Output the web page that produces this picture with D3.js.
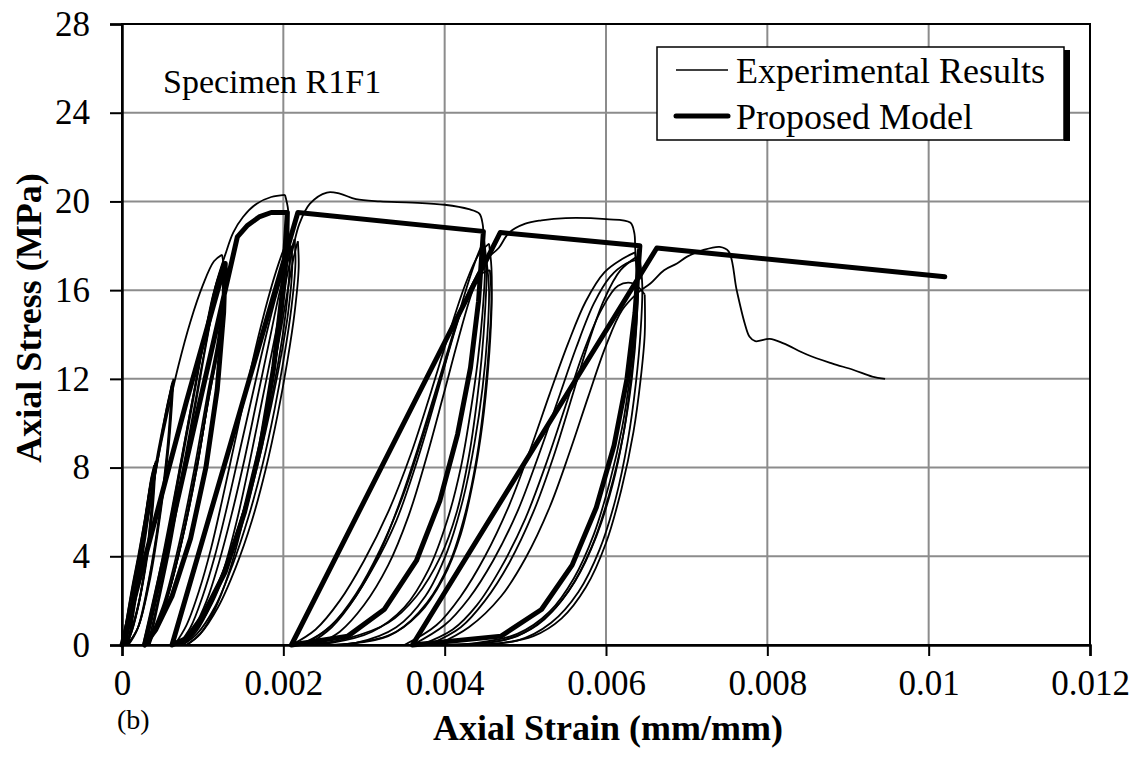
<!DOCTYPE html>
<html>
<head>
<meta charset="utf-8">
<script src="https://cdn.jsdelivr.net/npm/d3@7/dist/d3.min.js"></script>
<style>
  html, body { margin: 0; padding: 0; background: #fff; }
  svg { display: block; }
  text { font-family: "Liberation Serif", "Times New Roman", serif; fill: #000; }
</style>
</head>
<body>
<svg id="chart" width="1146" height="758"></svg>
<script>
// ---- axis ticks ----
const strainTicks = [0, 0.002, 0.004, 0.006, 0.008, 0.01, 0.012];
const strainTickLabels = ["0", "0.002", "0.004", "0.006", "0.008", "0.01", "0.012"];
const stressTicks = [0, 4, 8, 12, 16, 20, 24, 28];

// ---- experimental results: [axial strain, axial stress MPa] ----
// initial small cycles near the origin
const expInitial = [
  [[0,0],[0.00006,1.2],[0.00013,2.6],[0.0002,3.9]],
  [[0.0002,3.9],[0.00016,2.5],[0.0001,1.1],[0.00002,0]],
  [[0,0],[0.00005,1],[0.00012,2.5],[0.0002,4],[0.0003,6],[0.00041,8.2]],
  [[0.00041,8.2],[0.00037,6],[0.0003,3.8],[0.0002,1.8],[0.0001,0.5],[0.00004,0]],
  [[0.00004,0],[0.0001,1.2],[0.00018,3],[0.00028,5.5],[0.00036,7.5],[0.0004,8.1]],
  [[0.0004,8.1],[0.00036,5.8],[0.00029,3.6],[0.0002,1.7],[0.0001,0.4],[0.00003,0]],
  [[0.00002,0],[0.00009,1.4],[0.00017,3.2],[0.00027,5.4],[0.00035,7.2],[0.0004,8]],
  [[0.0004,8],[0.00035,5.6],[0.00028,3.4],[0.00019,1.6],[0.00009,0.4],[0.00002,0]],
  [[0.00003,0],[0.0001,1.3],[0.00019,3.2],[0.00029,5.7],[0.00037,7.6],[0.00042,8.3]],
  [[0.00042,8.3],[0.00038,6.1],[0.00031,3.9],[0.00021,1.9],[0.00011,0.5],[0.00005,0]],
  [[0.00005,0],[0.00013,1.6],[0.00024,4],[0.00035,6.4],[0.00047,9],[0.00056,10.8],[0.00063,11.9]],
  [[0.00063,11.9],[0.00057,8.9],[0.00047,5.9],[0.00034,3],[0.0002,0.8],[0.00006,0]],
  [[0.00003,0],[0.00012,1.5],[0.00022,3.8],[0.00032,6],[0.00045,8.8],[0.00055,10.6],[0.00064,12]],
  [[0.00064,12],[0.00058,9],[0.00048,6],[0.00035,3],[0.0002,0.8],[0.00007,0]],
  [[0.00007,0],[0.00015,1.8],[0.00025,4.2],[0.00038,7],[0.0005,9.5],[0.00062,11.8]],
  [[0.00062,11.8],[0.00056,8.8],[0.00046,5.8],[0.00033,2.9],[0.00019,0.7],[0.00008,0]],
  [[0.00008,0],[0.00016,1.8],[0.00028,4.6],[0.0004,7.5],[0.00055,10.2],[0.0007,12.6],[0.00085,14.6],[0.001,16.2],[0.00114,17.3],[0.00124,17.6]],
  [[0.00124,17.6],[0.00127,16.8],[0.00121,14],[0.0011,11.8],[0.00093,8],[0.00073,4.5],[0.00055,2],[0.0004,0.6],[0.0003,0]]
];
// reloading cycles after the first unloading
const expFirstLoops = [
  [[0.0003,0],[0.0004,1.8],[0.00055,4.3],[0.00072,7.8],[0.00088,11],[0.00102,13.8],[0.00115,16],[0.00126,17.3]],
  [[0.00126,17.3],[0.00127,16.2],[0.00121,14],[0.0011,11.8],[0.00094,8.2],[0.00075,4.8],[0.00056,2.1],[0.0004,0.6],[0.00028,0]],
  [[0.00032,0],[0.00042,1.6],[0.00057,4.2],[0.00074,7.6],[0.0009,10.8],[0.00104,13.6],[0.00117,15.9],[0.00127,17.2]],
  [[0.00127,17.2],[0.00126,16.1],[0.00119,13.8],[0.00107,11.5],[0.0009,8],[0.00071,4.6],[0.00052,1.9],[0.00037,0.5],[0.00032,0]],
  [[0.00034,0],[0.00044,1.7],[0.00059,4.3],[0.00076,7.8],[0.00092,11],[0.00106,13.9],[0.00118,16.1],[0.00128,17.1]],
  [[0.00128,17.1],[0.00127,15.9],[0.0012,13.5],[0.00109,11.4],[0.00093,8.1],[0.00074,4.7],[0.00055,2],[0.0004,0.6],[0.00034,0]],
  [[0.00028,0],[0.00037,1.4],[0.0005,3.6],[0.00066,6.8],[0.00084,10.4],[0.00099,13.3],[0.00113,15.8],[0.00125,17.2]],
  [[0.00125,17.2],[0.00126,16],[0.0012,13.6],[0.00108,11.2],[0.00091,7.8],[0.00072,4.4],[0.00053,1.8],[0.00038,0.5],[0.00026,0]],
  [[0.00026,0],[0.00036,1.5],[0.0005,3.9],[0.00068,7.3],[0.00086,10.8],[0.00102,13.8],[0.00116,16.2],[0.00128,17.6],[0.00138,18.6],[0.0015,19.3],[0.00167,19.9],[0.00185,20.2],[0.00202,20.3]]
];
// cycles after the peak
const expSecondLoops = [
  [[0.00202,20.3],[0.00206,19.6],[0.00206,18],[0.00202,16],[0.00195,14],[0.00185,11.5],[0.00172,9],[0.00158,7],[0.0014,4.8],[0.0012,2.8],[0.001,1.2],[0.00082,0.3],[0.0007,0]],
  [[0.0007,0],[0.00085,0.8],[0.001,2.2],[0.00115,4],[0.0013,6.2],[0.00145,8.6],[0.0016,11],[0.00175,13.4],[0.0019,15.6],[0.00203,17.2],[0.0021,18]],
  [[0.0021,18],[0.00211,17],[0.00206,15],[0.00197,13],[0.00185,10.8],[0.0017,8.4],[0.00153,6],[0.00133,3.8],[0.00112,1.9],[0.0009,0.6],[0.00072,0]],
  [[0.00065,0],[0.0008,0.9],[0.00096,2.5],[0.0011,4.3],[0.00124,6.5],[0.00139,9],[0.00154,11.5],[0.00169,13.9],[0.00184,16],[0.00198,17.6],[0.00207,18.4]],
  [[0.00207,18.4],[0.00208,17.2],[0.00203,15],[0.00193,12.6],[0.0018,10.2],[0.00164,7.8],[0.00146,5.5],[0.00126,3.4],[0.00104,1.6],[0.00083,0.4],[0.00065,0]],
  [[0.00072,0],[0.00088,0.7],[0.00105,2],[0.0012,3.7],[0.00136,5.9],[0.00152,8.4],[0.00167,11],[0.00182,13.6],[0.00196,16],[0.00208,17.6],[0.00214,18.3]],
  [[0.00214,18.3],[0.00215,17.2],[0.0021,15.2],[0.00201,13],[0.00189,10.6],[0.00174,8.1],[0.00157,5.8],[0.00137,3.6],[0.00115,1.7],[0.00093,0.5],[0.00075,0]],
  [[0.0008,0],[0.00097,0.5],[0.00115,1.6],[0.00132,3.2],[0.00148,5.3],[0.00163,7.8],[0.00178,10.5],[0.00192,13.2],[0.00204,15.7],[0.00213,17.5],[0.00218,18.2]],
  [[0.00218,18.2],[0.00219,17],[0.00214,15],[0.00205,12.8],[0.00193,10.4],[0.00178,7.9],[0.00161,5.6],[0.00141,3.5],[0.00119,1.7],[0.00097,0.5],[0.0008,0]],
  [[0.00075,0],[0.00092,0.6],[0.0011,1.8],[0.00127,3.5],[0.00143,5.7],[0.00158,8.2],[0.00173,10.9],[0.00188,13.6],[0.00201,16],[0.00212,17.9],[0.0022,19],[0.00233,19.9],[0.00254,20.4],[0.0027,20.35],[0.0029,20.1],[0.0032,20.0],[0.0036,19.95],[0.004,19.85],[0.0043,19.65],[0.00443,19.45],[0.00447,19.0],[0.00448,18.5]]
];
const expThirdLoops = [
  [[0.00448,18.5],[0.00452,17],[0.0045,15],[0.00446,13],[0.0044,11],[0.0043,8.5],[0.00415,6],[0.00395,4],[0.00365,2.2],[0.0033,1],[0.0028,0.3],[0.0023,0]],
  [[0.0023,0],[0.0026,0.8],[0.0029,2.2],[0.0032,4.2],[0.00345,6.5],[0.00368,9],[0.0039,11.6],[0.0041,14],[0.00428,16.2],[0.0044,17.5],[0.00448,18.2]],
  [[0.00448,18.2],[0.0045,17],[0.00447,15],[0.00441,12.8],[0.00432,10.5],[0.0042,8],[0.00403,5.6],[0.0038,3.4],[0.0035,1.7],[0.0031,0.6],[0.0026,0.1],[0.0022,0]],
  [[0.0022,0],[0.0025,0.6],[0.0028,1.7],[0.0031,3.4],[0.0034,5.6],[0.00365,8.2],[0.00388,11],[0.00408,13.6],[0.00425,15.5],[0.0044,16.6],[0.00456,16.9]],
  [[0.00456,16.9],[0.00458,15.6],[0.00455,13.5],[0.00449,11],[0.0044,8.5],[0.00426,6],[0.00406,3.7],[0.00378,1.9],[0.0034,0.6],[0.0029,0.1],[0.0021,0]],
  [[0.0024,0],[0.0027,0.6],[0.003,1.8],[0.0033,3.6],[0.00355,5.8],[0.00377,8.4],[0.00398,11.2],[0.00417,13.8],[0.00433,15.8],[0.00446,17],[0.00452,17.3]],
  [[0.00452,17.3],[0.00455,16],[0.00453,14],[0.00447,11.6],[0.00437,9.1],[0.00423,6.6],[0.00403,4.2],[0.00376,2.2],[0.0034,0.8],[0.0029,0.1],[0.0024,0]],
  [[0.0021,0],[0.0024,0.7],[0.0027,2],[0.003,3.8],[0.0033,6],[0.00358,8.6],[0.00383,11.4],[0.00405,14],[0.00425,16.2],[0.00442,17.6],[0.00455,18.1]],
  [[0.00455,18.1],[0.00458,17],[0.00458,15],[0.00454,12.5],[0.00447,10],[0.00436,7.5],[0.0042,5],[0.00398,3],[0.00368,1.4],[0.0033,0.4],[0.0028,0.05],[0.00225,0]],
  [[0.00225,0],[0.0026,0.9],[0.0029,2.3],[0.0032,4.3],[0.00348,6.7],[0.00372,9.3],[0.00395,12],[0.00416,14.6],[0.00436,16.4],[0.00452,17.4],[0.00467,17.9],[0.0048,18.6],[0.005,19.0],[0.0052,19.15],[0.0055,19.25],[0.006,19.2],[0.0063,19.05],[0.00635,18.6],[0.00636,18.0]]
];
const expFourthLoops = [
  [[0.00636,18],[0.00638,16.5],[0.00636,14.5],[0.0063,12.2],[0.0062,9.8],[0.00605,7.4],[0.00585,5],[0.0056,3],[0.0053,1.5],[0.0049,0.5],[0.0044,0.1],[0.0038,0]],
  [[0.0038,0],[0.0042,0.8],[0.0045,2],[0.0048,3.7],[0.0051,6],[0.00535,8.5],[0.00558,11.2],[0.00578,13.6],[0.00598,15.6],[0.00618,16.9],[0.00638,17.5]],
  [[0.00638,17.5],[0.0064,16.2],[0.00637,14.2],[0.00631,12],[0.00622,9.6],[0.00608,7.2],[0.00588,4.9],[0.00562,2.9],[0.0053,1.4],[0.0049,0.4],[0.0044,0.05],[0.0037,0]],
  [[0.0037,0],[0.0041,0.7],[0.0044,1.8],[0.0047,3.5],[0.005,5.7],[0.00526,8.2],[0.0055,10.8],[0.00572,13.2],[0.00594,15.1],[0.00615,16.2],[0.00634,16.3],[0.00648,15.8]],
  [[0.00648,15.8],[0.00648,14],[0.00643,12],[0.00634,9.6],[0.00619,7],[0.006,4.6],[0.00575,2.6],[0.00545,1.2],[0.0051,0.4],[0.0046,0.05],[0.0036,0]],
  [[0.0035,0],[0.0039,0.9],[0.0042,2.2],[0.0045,4],[0.0048,6.3],[0.00506,8.8],[0.0053,11.3],[0.00553,13.6],[0.00575,15.5],[0.00598,16.8],[0.0062,17.4],[0.00636,17.7]],
  [[0.00636,17.7],[0.00639,16.5],[0.00638,14.5],[0.00632,12],[0.00621,9.4],[0.00604,6.8],[0.00582,4.4],[0.00553,2.4],[0.00515,0.9],[0.0047,0.2],[0.0035,0]],
  [[0.0036,0],[0.004,0.9],[0.0043,2.1],[0.0046,3.8],[0.0049,6],[0.00516,8.5],[0.0054,11],[0.00563,13.4],[0.00585,15.4],[0.00605,16.6],[0.00625,17.2],[0.00642,17.4]],
  [[0.00642,17.4],[0.00645,16.2],[0.00643,14.2],[0.00637,11.8],[0.00627,9.2],[0.00612,6.6],[0.00592,4.3],[0.00566,2.4],[0.00532,1],[0.0049,0.2],[0.0039,0]],
  [[0.0039,0],[0.0043,0.8],[0.0047,2.2],[0.005,3.9],[0.0053,6.2],[0.00555,8.7],[0.00578,11.2],[0.006,13.5],[0.0062,15.1],[0.0064,15.9],[0.00655,16.3],[0.00672,16.9],[0.00688,17.2],[0.007,17.5],[0.0072,17.8],[0.00741,17.95],[0.00752,17.75],[0.00762,16],[0.00772,14.5],[0.00778,13.9],[0.00785,13.7],[0.00803,13.8],[0.0082,13.6],[0.00849,13.1],[0.0088,12.7],[0.00907,12.4],[0.0093,12.1],[0.00946,12.0]]
];

// ---- proposed model: [axial strain, axial stress MPa] ----
const modelCurve = [
  [0,0],[0.0004,5.5],[0.0008,11],[0.00128,17.2],
  [0.00126,15],[0.00118,11.5],[0.00104,8],[0.00085,4.8],[0.00062,2.2],[0.00042,0.7],[0.00028,0],
  [0.00143,18.4],
  [0.00155,18.9],[0.0017,19.3],[0.00185,19.5],[0.00205,19.5],
  [0.00199,16],[0.00188,12.5],[0.00172,9],[0.00152,6],[0.00128,3.3],[0.001,1.3],[0.0008,0.3],[0.00062,0],
  [0.00218,19.5],
  [0.00448,18.65],
  [0.00442,15.5],[0.00432,12.5],[0.00416,9.5],[0.00394,6.5],[0.00365,3.8],[0.00325,1.6],[0.0028,0.4],[0.0021,0],
  [0.00469,18.6],
  [0.00642,18.0],
  [0.00636,15],[0.00626,12],[0.0061,9],[0.00588,6.2],[0.00558,3.6],[0.0052,1.6],[0.0047,0.4],[0.0036,0],
  [0.00663,17.9],
  [0.0102,16.6]
];

const legendLabels = ["Experimental Results", "Proposed Model"];

// ---- layout ----
const svg = d3.select("#chart");
const x = d3.scaleLinear().domain([0, 0.012]).range([122, 1090]);
const y = d3.scaleLinear().domain([0, 28]).range([645, 24]);

// gridlines
const grid = svg.append("g");
grid.selectAll("line.v").data(strainTicks.slice(1, -1)).join("line")
  .attr("x1", d => x(d)).attr("x2", d => x(d))
  .attr("y1", y(28)).attr("y2", y(0))
  .attr("stroke", "#8c8c8c").attr("stroke-width", 2);
grid.selectAll("line.h").data(stressTicks.slice(1, -1)).join("line")
  .attr("x1", x(0)).attr("x2", x(0.012))
  .attr("y1", d => y(d)).attr("y2", d => y(d))
  .attr("stroke", "#8c8c8c").attr("stroke-width", 2);

// experimental curves (thin)
const thin = d3.line().x(d => x(d[0])).y(d => y(d[1])).curve(d3.curveCatmullRom.alpha(0.5));
const expAll = [].concat(expInitial, expFirstLoops, expSecondLoops, expThirdLoops, expFourthLoops);
svg.append("g").selectAll("path").data(expAll).join("path")
  .attr("d", thin)
  .attr("fill", "none").attr("stroke", "#000").attr("stroke-width", 1.8)
  .attr("stroke-linejoin", "round");

// proposed model (thick)
const thick = d3.line().x(d => x(d[0])).y(d => y(d[1]));
svg.append("path").datum(modelCurve)
  .attr("d", thick)
  .attr("fill", "none").attr("stroke", "#000").attr("stroke-width", 5)
  .attr("stroke-linejoin", "round").attr("stroke-linecap", "round");

// plot frame
svg.append("rect")
  .attr("x", x(0)).attr("y", y(28))
  .attr("width", x(0.012) - x(0)).attr("height", y(0) - y(28))
  .attr("fill", "none").attr("stroke", "#000").attr("stroke-width", 2);

// axes
const xAxis = d3.axisBottom(x).tickValues(strainTicks)
  .tickFormat((d, i) => strainTickLabels[i]).tickSize(11).tickPadding(14);
const gx = svg.append("g").attr("transform", `translate(0,${y(0)})`).call(xAxis);
gx.select(".domain").attr("stroke-width", 2.5);
gx.selectAll(".tick line").attr("stroke-width", 2);
gx.selectAll("text").attr("font-size", 35).attr("font-family", "Liberation Serif");

const yAxis = d3.axisLeft(y).tickValues(stressTicks).tickSize(12).tickPadding(20);
const gy = svg.append("g").attr("transform", `translate(${x(0)},0)`).call(yAxis);
gy.select(".domain").attr("stroke-width", 2.5);
gy.selectAll(".tick line").attr("stroke-width", 2);
gy.selectAll("text").attr("font-size", 35).attr("font-family", "Liberation Serif");

// titles and annotations
svg.append("text").attr("x", 608).attr("y", 740).attr("text-anchor", "middle")
  .attr("font-size", 36).attr("font-weight", "bold").text("Axial Strain (mm/mm)");
svg.append("text").attr("transform", "translate(41,318) rotate(-90)").attr("text-anchor", "middle")
  .attr("font-size", 36).attr("font-weight", "bold").text("Axial Stress (MPa)");
svg.append("text").attr("x", 117).attr("y", 729).attr("font-size", 28).text("(b)");
svg.append("text").attr("x", 163).attr("y", 93).attr("font-size", 34).text("Specimen R1F1");

// legend with drop shadow on the right
const lg = svg.append("g");
lg.append("rect").attr("x", 1064).attr("y", 50).attr("width", 6).attr("height", 91).attr("fill", "#000");
lg.append("rect").attr("x", 657).attr("y", 47).attr("width", 407).attr("height", 93)
  .attr("fill", "#fff").attr("stroke", "#000").attr("stroke-width", 1.5);
const rows = lg.selectAll("g.row").data(legendLabels).join("g")
  .attr("transform", (d, i) => `translate(0,${70 + i * 46})`);
rows.append("line").attr("x1", 676).attr("x2", 728).attr("y1", 0).attr("y2", 0)
  .attr("stroke", "#000").attr("stroke-width", (d, i) => i === 0 ? 1.5 : 5)
  .attr("stroke-linecap", (d, i) => i === 0 ? "butt" : "round");
rows.append("text").attr("x", 736).attr("y", 13).attr("font-size", 36).text(d => d);
</script>
</body>
</html>
